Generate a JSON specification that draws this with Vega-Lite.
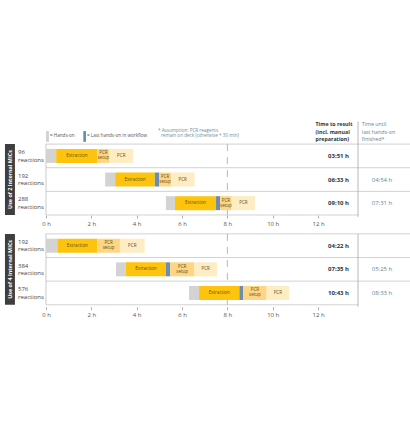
{
  "$schema": "https://vega.github.io/schema/vega-lite/v6.json",
  "width": 410,
  "height": 440,
  "padding": 0,
  "autosize": "none",
  "config": {"view": {"stroke": null}, "font": "Open Sans"},
  "resolve": {"axis": {"x": "independent"}},
  "datasets": {
    "bars": [
      {"slot": 1, "phase": "Hands-on", "start": 0, "end": 0.45},
      {"slot": 1, "phase": "Extraction", "start": 0.45, "end": 2.27},
      {"slot": 1, "phase": "PCR setup", "start": 2.27, "end": 2.79},
      {"slot": 1, "phase": "PCR", "start": 2.79, "end": 3.85},
      {"slot": 2, "phase": "Hands-on", "start": 2.61, "end": 3.05},
      {"slot": 2, "phase": "Extraction", "start": 3.05, "end": 4.8},
      {"slot": 2, "phase": "Last hands-on", "start": 4.8, "end": 5.0},
      {"slot": 2, "phase": "PCR setup", "start": 5.0, "end": 5.51},
      {"slot": 2, "phase": "PCR", "start": 5.51, "end": 6.55},
      {"slot": 3, "phase": "Hands-on", "start": 5.29, "end": 5.69},
      {"slot": 3, "phase": "Extraction", "start": 5.69, "end": 7.5},
      {"slot": 3, "phase": "Last hands-on", "start": 7.5, "end": 7.68},
      {"slot": 3, "phase": "PCR setup", "start": 7.68, "end": 8.19},
      {"slot": 3, "phase": "PCR", "start": 8.19, "end": 9.22},
      {"slot": 4.8, "phase": "Hands-on", "start": 0, "end": 0.5},
      {"slot": 4.8, "phase": "Extraction", "start": 0.5, "end": 2.26},
      {"slot": 4.8, "phase": "PCR setup", "start": 2.26, "end": 3.26},
      {"slot": 4.8, "phase": "PCR", "start": 3.26, "end": 4.35},
      {"slot": 5.8, "phase": "Hands-on", "start": 3.09, "end": 3.52},
      {"slot": 5.8, "phase": "Extraction", "start": 3.52, "end": 5.29},
      {"slot": 5.8, "phase": "Last hands-on", "start": 5.29, "end": 5.48},
      {"slot": 5.8, "phase": "PCR setup", "start": 5.48, "end": 6.53},
      {"slot": 5.8, "phase": "PCR", "start": 6.53, "end": 7.55},
      {"slot": 6.8, "phase": "Hands-on", "start": 6.31, "end": 6.75},
      {"slot": 6.8, "phase": "Extraction", "start": 6.75, "end": 8.53},
      {"slot": 6.8, "phase": "Last hands-on", "start": 8.53, "end": 8.7},
      {"slot": 6.8, "phase": "PCR setup", "start": 8.7, "end": 9.73},
      {"slot": 6.8, "phase": "PCR", "start": 9.73, "end": 10.72}
    ],
    "runs": [
      {"slot": 1, "reactions": "96 reactions", "ttr": "03:51 h", "last": null},
      {"slot": 2, "reactions": "192 reactions", "ttr": "06:33 h", "last": "04:54 h"},
      {"slot": 3, "reactions": "288 reactions", "ttr": "09:10 h", "last": "07:31 h"},
      {"slot": 4.8, "reactions": "192 reactions", "ttr": "04:22 h", "last": null},
      {"slot": 5.8, "reactions": "384 reactions", "ttr": "07:35 h", "last": "05:25 h"},
      {"slot": 6.8, "reactions": "576 reactions", "ttr": "10:43 h", "last": "08:33 h"}
    ],
    "panels": [
      {"label": "Use of 2 Internal MICs", "top": 0.5, "bottom": 3.5, "mid": 2.0, "septop": -0.46, "sepbottom": 3.58},
      {"label": "Use of 4 Internal MICs", "top": 4.3, "bottom": 7.3, "mid": 5.8, "septop": 4.3, "sepbottom": 7.38}
    ],
    "hlines": [
      {"y": 0.5, "x0": 0, "x1": 16.056},
      {"y": 1.5, "x0": 0, "x1": 16.056},
      {"y": 2.5, "x0": 0, "x1": 16.056},
      {"y": 3.5, "x0": 0, "x1": 13.763},
      {"y": 4.3, "x0": 0, "x1": 16.056},
      {"y": 5.3, "x0": 0, "x1": 16.056},
      {"y": 6.3, "x0": 0, "x1": 16.056},
      {"y": 7.3, "x0": 0, "x1": 13.763}
    ]
  },
  "layer": [
    {
      "data": {"name": "hlines"},
      "mark": {"type": "rule", "color": "#c6c6c6", "strokeWidth": 0.8},
      "encoding": {
        "x": {"field": "x0", "type": "quantitative", "scale": {"domain": [-2.029, 16.056], "nice": false, "zero": false},
          "axis": {"orient": "bottom", "offset": -225, "values": [0, 2, 4, 6, 8, 10, 12], "labelExpr": "datum.value + ' h'", "domain": false, "grid": false, "tickSize": 3, "tickColor": "#9a9a9a", "tickWidth": 0.8, "labelFontSize": 6, "labelColor": "#555555", "labelFont": "Open Sans", "labelPadding": 2, "title": null}},
        "x2": {"field": "x1"},
        "y": {"field": "y", "type": "quantitative", "scale": {"domain": [-5.385, 12.81], "nice": false, "zero": false, "reverse": true}, "axis": null}
      }
    },
    {
      "data": {"name": "panels"},
      "mark": {"type": "rule", "color": "#bdbdbd", "strokeWidth": 0.8},
      "encoding": {
        "x": {"datum": 0, "type": "quantitative", "scale": {"domain": [-2.029, 16.056], "nice": false, "zero": false},
          "axis": {"orient": "bottom", "offset": -133.3, "values": [0, 2, 4, 6, 8, 10, 12], "labelExpr": "datum.value + ' h'", "domain": false, "grid": false, "tickSize": 3, "tickColor": "#9a9a9a", "tickWidth": 0.8, "labelFontSize": 6, "labelColor": "#555555", "labelFont": "Open Sans", "labelPadding": 2, "title": null}},
        "y": {"field": "top", "type": "quantitative", "scale": {"domain": [-5.385, 12.81], "nice": false, "zero": false, "reverse": true}, "axis": null},
        "y2": {"field": "bottom"}
      }
    },
    {
      "data": {"name": "panels"},
      "mark": {"type": "rule", "color": "#a8a8a8", "strokeWidth": 0.8},
      "encoding": {
        "x": {"datum": 13.763, "type": "quantitative", "scale": {"domain": [-2.029, 16.056], "nice": false, "zero": false}, "axis": null},
        "y": {"field": "septop", "type": "quantitative", "scale": {"domain": [-5.385, 12.81], "nice": false, "zero": false, "reverse": true}, "axis": null},
        "y2": {"field": "sepbottom"}
      }
    },
    {
      "data": {"name": "panels"},
      "mark": {"type": "rule", "color": "#b0b0b0", "strokeWidth": 0.9, "strokeDash": [7, 6]},
      "encoding": {
        "x": {"datum": 8, "type": "quantitative", "scale": {"domain": [-2.029, 16.056], "nice": false, "zero": false}, "axis": null},
        "y": {"field": "top", "type": "quantitative", "scale": {"domain": [-5.385, 12.81], "nice": false, "zero": false, "reverse": true}, "axis": null},
        "y2": {"field": "bottom"}
      }
    },
    {
      "data": {"name": "panels"},
      "mark": {"type": "rect", "color": "#3f3f3f"},
      "encoding": {
        "x": {"datum": -1.81, "type": "quantitative", "scale": {"domain": [-2.029, 16.056], "nice": false, "zero": false}, "axis": null},
        "x2": {"datum": -1.37},
        "y": {"field": "top", "type": "quantitative", "scale": {"domain": [-5.385, 12.81], "nice": false, "zero": false, "reverse": true}, "axis": null},
        "y2": {"field": "bottom"}
      }
    },
    {
      "data": {"name": "panels"},
      "mark": {"type": "text", "angle": 270, "align": "center", "baseline": "middle", "color": "#ffffff", "fontWeight": "bold", "fontSize": 5.4},
      "encoding": {
        "x": {"datum": -1.59, "type": "quantitative", "scale": {"domain": [-2.029, 16.056], "nice": false, "zero": false}, "axis": null},
        "y": {"field": "mid", "type": "quantitative", "scale": {"domain": [-5.385, 12.81], "nice": false, "zero": false, "reverse": true}, "axis": null},
        "text": {"field": "label"}
      }
    },
    {
      "data": {"name": "runs"},
      "mark": {"type": "text", "align": "left", "baseline": "middle", "color": "#444444", "fontSize": 6, "lineHeight": 7.5, "lineBreak": " ", "dy": -3.75},
      "encoding": {
        "x": {"datum": -1.235, "type": "quantitative", "scale": {"domain": [-2.029, 16.056], "nice": false, "zero": false}, "axis": null},
        "y": {"field": "slot", "type": "quantitative", "scale": {"domain": [-5.385, 12.81], "nice": false, "zero": false, "reverse": true}, "axis": null},
        "text": {"field": "reactions"}
      }
    },
    {
      "data": {"name": "bars"},
      "mark": {"type": "bar", "size": 14},
      "encoding": {
        "x": {"field": "start", "type": "quantitative", "scale": {"domain": [-2.029, 16.056], "nice": false, "zero": false}, "axis": null},
        "x2": {"field": "end"},
        "y": {"field": "slot", "type": "quantitative", "scale": {"domain": [-5.385, 12.81], "nice": false, "zero": false, "reverse": true}, "axis": null},
        "color": {"field": "phase", "type": "nominal", "legend": null,
          "scale": {"domain": ["Hands-on", "Extraction", "Last hands-on", "PCR setup", "PCR"], "range": ["#d3d3d3", "#fec40d", "#6b8db0", "#fdd583", "#feecc2"]}}
      }
    },
    {
      "data": {"name": "bars"},
      "transform": [
        {"filter": "datum.phase == 'Extraction' || datum.phase == 'PCR'"},
        {"fold": ["start", "end"], "as": ["edge", "t"]},
        {"aggregate": [{"op": "mean", "field": "t", "as": "mid"}], "groupby": ["slot", "phase"]}
      ],
      "mark": {"type": "text", "align": "center", "baseline": "middle", "color": "#5f4f1c", "fontSize": 4.5},
      "encoding": {
        "x": {"field": "mid", "type": "quantitative", "scale": {"domain": [-2.029, 16.056], "nice": false, "zero": false}, "axis": null},
        "y": {"field": "slot", "type": "quantitative", "scale": {"domain": [-5.385, 12.81], "nice": false, "zero": false, "reverse": true}, "axis": null},
        "text": {"field": "phase"}
      }
    },
    {
      "data": {"name": "bars"},
      "transform": [
        {"filter": "datum.phase == 'PCR setup'"},
        {"fold": ["start", "end"], "as": ["edge", "t"]},
        {"aggregate": [{"op": "mean", "field": "t", "as": "mid"}], "groupby": ["slot", "phase"]}
      ],
      "mark": {"type": "text", "align": "center", "baseline": "middle", "color": "#5f4f1c", "fontSize": 4.5, "lineHeight": 5, "lineBreak": " ", "dy": -2.5},
      "encoding": {
        "x": {"field": "mid", "type": "quantitative", "scale": {"domain": [-2.029, 16.056], "nice": false, "zero": false}, "axis": null},
        "y": {"field": "slot", "type": "quantitative", "scale": {"domain": [-5.385, 12.81], "nice": false, "zero": false, "reverse": true}, "axis": null},
        "text": {"field": "phase"}
      }
    },
    {
      "data": {"name": "runs"},
      "mark": {"type": "text", "align": "right", "baseline": "middle", "color": "#333333", "fontWeight": "bold", "fontSize": 6},
      "encoding": {
        "x": {"datum": 13.366, "type": "quantitative", "scale": {"domain": [-2.029, 16.056], "nice": false, "zero": false}, "axis": null},
        "y": {"field": "slot", "type": "quantitative", "scale": {"domain": [-5.385, 12.81], "nice": false, "zero": false, "reverse": true}, "axis": null},
        "text": {"field": "ttr"}
      }
    },
    {
      "data": {"name": "runs"},
      "transform": [{"filter": "datum.last != null"}],
      "mark": {"type": "text", "align": "center", "baseline": "middle", "color": "#5e8797", "fontSize": 6},
      "encoding": {
        "x": {"datum": 14.82, "type": "quantitative", "scale": {"domain": [-2.029, 16.056], "nice": false, "zero": false}, "axis": null},
        "y": {"field": "slot", "type": "quantitative", "scale": {"domain": [-5.385, 12.81], "nice": false, "zero": false, "reverse": true}, "axis": null},
        "text": {"field": "last"}
      }
    },
    {
      "data": {"values": [{}]},
      "mark": {"type": "text", "align": "left", "baseline": "middle", "color": "#333333", "fontWeight": "bold", "fontSize": 5.3, "lineHeight": 7.3, "dy": -7.3, "text": ["Time to result", "(incl. manual", "preparation)"]},
      "encoding": {
        "x": {"datum": 11.89, "type": "quantitative", "scale": {"domain": [-2.029, 16.056], "nice": false, "zero": false}, "axis": null},
        "y": {"datum": -0.03, "type": "quantitative", "scale": {"domain": [-5.385, 12.81], "nice": false, "zero": false, "reverse": true}, "axis": null}
      }
    },
    {
      "data": {"values": [{}]},
      "mark": {"type": "text", "align": "left", "baseline": "middle", "color": "#5e8797", "fontSize": 5.3, "lineHeight": 7.3, "dy": -7.3, "text": ["Time until", "last hands-on", "finished*"]},
      "encoding": {
        "x": {"datum": 13.93, "type": "quantitative", "scale": {"domain": [-2.029, 16.056], "nice": false, "zero": false}, "axis": null},
        "y": {"datum": -0.03, "type": "quantitative", "scale": {"domain": [-5.385, 12.81], "nice": false, "zero": false, "reverse": true}, "axis": null}
      }
    },
    {
      "data": {"values": [{}]},
      "mark": {"type": "text", "align": "left", "baseline": "middle", "color": "#6f8e9b", "fontSize": 4.6, "text": "* Assumption: PCR reagents"},
      "encoding": {
        "x": {"datum": 4.94, "type": "quantitative", "scale": {"domain": [-2.029, 16.056], "nice": false, "zero": false}, "axis": null},
        "y": {"datum": -0.05, "type": "quantitative", "scale": {"domain": [-5.385, 12.81], "nice": false, "zero": false, "reverse": true}, "axis": null}
      }
    },
    {
      "data": {"values": [{}]},
      "mark": {"type": "text", "align": "left", "baseline": "middle", "color": "#6f8e9b", "fontSize": 4.6, "text": "remain on deck (otherwise + 30 min)"},
      "encoding": {
        "x": {"datum": 5.07, "type": "quantitative", "scale": {"domain": [-2.029, 16.056], "nice": false, "zero": false}, "axis": null},
        "y": {"datum": 0.16, "type": "quantitative", "scale": {"domain": [-5.385, 12.81], "nice": false, "zero": false, "reverse": true}, "axis": null}
      }
    },
    {
      "data": {"values": [{}]},
      "mark": {"type": "rect", "color": "#d3d3d3"},
      "encoding": {
        "x": {"datum": 0, "type": "quantitative", "scale": {"domain": [-2.029, 16.056], "nice": false, "zero": false}, "axis": null},
        "x2": {"datum": 0.13},
        "y": {"datum": -0.05, "type": "quantitative", "scale": {"domain": [-5.385, 12.81], "nice": false, "zero": false, "reverse": true}, "axis": null},
        "y2": {"datum": 0.405}
      }
    },
    {
      "data": {"values": [{}]},
      "mark": {"type": "rect", "color": "#6b8db0"},
      "encoding": {
        "x": {"datum": 1.645, "type": "quantitative", "scale": {"domain": [-2.029, 16.056], "nice": false, "zero": false}, "axis": null},
        "x2": {"datum": 1.765},
        "y": {"datum": -0.05, "type": "quantitative", "scale": {"domain": [-5.385, 12.81], "nice": false, "zero": false, "reverse": true}, "axis": null},
        "y2": {"datum": 0.405}
      }
    },
    {
      "data": {"values": [{}]},
      "mark": {"type": "text", "align": "left", "baseline": "middle", "color": "#555555", "fontSize": 4.6, "text": "= Hands-on"},
      "encoding": {
        "x": {"datum": 0.176, "type": "quantitative", "scale": {"domain": [-2.029, 16.056], "nice": false, "zero": false}, "axis": null},
        "y": {"datum": 0.178, "type": "quantitative", "scale": {"domain": [-5.385, 12.81], "nice": false, "zero": false, "reverse": true}, "axis": null}
      }
    },
    {
      "data": {"values": [{}]},
      "mark": {"type": "text", "align": "left", "baseline": "middle", "color": "#555555", "fontSize": 4.6, "text": "= Last hands-on in workflow"},
      "encoding": {
        "x": {"datum": 1.81, "type": "quantitative", "scale": {"domain": [-2.029, 16.056], "nice": false, "zero": false}, "axis": null},
        "y": {"datum": 0.178, "type": "quantitative", "scale": {"domain": [-5.385, 12.81], "nice": false, "zero": false, "reverse": true}, "axis": null}
      }
    }
  ]
}
